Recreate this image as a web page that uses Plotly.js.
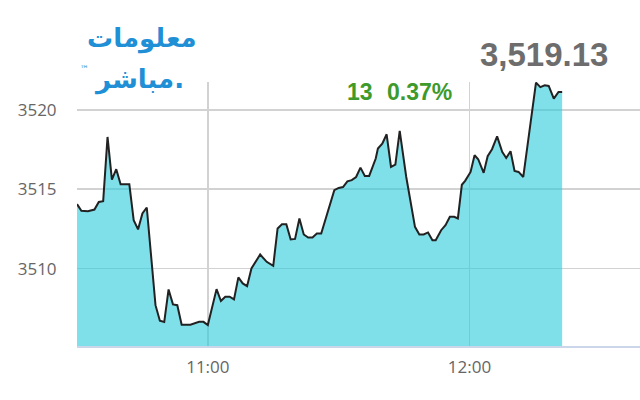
<!DOCTYPE html>
<html>
<head>
<meta charset="utf-8">
<script src="https://cdn.plot.ly/plotly-3.0.1.min.js"></script>
<style>
  html, body { margin: 0; padding: 0; background: #fff; }
  #chart { width: 640px; height: 400px; }
</style>
</head>
<body>
<div id="chart"></div>
<script>
// ---- data ----
const sessionDate = "2021-01-01";
const times = [
  "10:30:00","10:31:00","10:32:30","10:34:00","10:35:00","10:36:00","10:37:00","10:38:00","10:39:00","10:40:00",
  "10:42:00","10:43:00","10:44:00","10:45:00","10:46:00","10:48:00","10:49:00","10:50:00","10:51:00","10:52:00",
  "10:53:00","10:54:00","10:56:00","10:58:00","10:59:00","11:00:00","11:02:00","11:03:00","11:04:00","11:05:00",
  "11:06:00","11:07:00","11:08:00","11:09:00","11:10:00","11:12:00","11:13:30","11:15:00","11:16:00","11:17:00",
  "11:18:00","11:19:00","11:20:00","11:21:00","11:22:00","11:23:00","11:24:00","11:25:00","11:26:00","11:29:00",
  "11:30:00","11:31:00","11:32:00","11:33:00","11:34:00","11:35:00","11:36:00","11:37:00","11:38:30","11:39:00",
  "11:40:00","11:41:00","11:42:00","11:43:00","11:44:00","11:45:30","11:47:30","11:48:30","11:49:30","11:50:30",
  "11:51:30","11:52:15","11:53:30","11:54:30","11:55:30","11:56:30","11:57:20","11:58:15","11:59:00","12:00:15",
  "12:01:10","12:02:00","12:03:15","12:04:10","12:05:10","12:06:20","12:07:30","12:08:25","12:09:25","12:10:20",
  "12:11:15","12:12:20","12:15:15","12:16:15","12:17:15","12:18:10","12:19:20","12:20:25","12:21:15"
];
const indexValues = [
  3514.06,3513.64,3513.62,3513.72,3514.20,3514.25,3518.29,3515.61,3516.26,3515.31,
  3515.31,3513.05,3512.47,3513.47,3513.85,3507.70,3506.72,3506.64,3508.69,3507.75,
  3507.70,3506.47,3506.47,3506.65,3506.65,3506.45,3508.71,3507.96,3508.23,3508.23,
  3508.06,3509.45,3509.07,3508.90,3510.01,3510.89,3510.43,3510.18,3512.53,3512.80,
  3512.80,3511.84,3511.87,3513.16,3512.15,3511.96,3511.96,3512.21,3512.21,3514.94,
  3515.08,3515.14,3515.50,3515.57,3515.77,3516.36,3515.84,3515.84,3516.93,3517.56,
  3517.87,3518.46,3516.40,3516.55,3518.67,3515.77,3512.63,3512.15,3512.15,3512.28,
  3511.79,3511.79,3512.42,3512.74,3513.26,3513.26,3513.16,3515.28,3515.53,3516.09,
  3517.14,3516.89,3516.03,3517.08,3517.52,3518.33,3517.35,3516.97,3517.39,3516.15,
  3516.09,3515.77,3521.71,3521.43,3521.54,3521.50,3520.70,3521.12,3521.12
];
const yTickValues = [3510, 3515, 3520];
const xTickTimes = ["11:00:00", "12:00:00"];
const xTickLabels = ["11:00", "12:00"];
const lastValueText = "3,519.13";
const changePoints = "13";
const changePercent = "0.37%";
const logoLine1 = "معلومات";
const logoLine2 = "مباشر.";
const trademark = "™";

// ---- build ----
const xs = times.map(t => sessionDate + " " + t);

const trace = {
  x: xs,
  y: indexValues,
  type: "scatter",
  mode: "lines",
  line: { color: "#222222", width: 2 },
  fill: "tozeroy",
  fillcolor: "rgba(42,203,220,0.6)",
  hoverinfo: "skip"
};

const logoBlue = "#1f8fd6";

const layout = {
  width: 640,
  height: 400,
  margin: { l: 77, r: 0, t: 82, b: 54, pad: 0 },
  paper_bgcolor: "#ffffff",
  plot_bgcolor: "#ffffff",
  showlegend: false,
  xaxis: {
    type: "date",
    range: [sessionDate + " 10:30:00", sessionDate + " 12:39:06"],
    tickvals: xTickTimes.map(t => sessionDate + " " + t),
    ticktext: xTickLabels,
    showgrid: true,
    gridcolor: "#d2d2d2",
    gridwidth: 1.5,
    zeroline: false,
    showline: true,
    linecolor: "#ccd6eb",
    linewidth: 2,
    ticks: "outside",
    ticklen: 5,
    tickcolor: "rgba(0,0,0,0)",
    tickfont: { family: "Open Sans", size: 17, color: "#666666" }
  },
  yaxis: {
    range: [3505.13, 3521.75],
    tickvals: yTickValues,
    ticktext: yTickValues.map(String),
    showgrid: true,
    gridcolor: "#d2d2d2",
    gridwidth: 1.5,
    zeroline: false,
    showline: false,
    ticks: "outside",
    ticklen: 16,
    tickcolor: "rgba(0,0,0,0)",
    tickfont: { family: "Open Sans", size: 17, color: "#666666" }
  },
  annotations: [
    { text: lastValueText, xref: "paper", yref: "paper", x: 0.829, y: 1.105,
      xanchor: "center", yanchor: "middle", showarrow: false,
      font: { family: "Liberation Sans", size: 33, color: "#6d6d6d", weight: "bold" } },
    { text: changePoints, xref: "paper", yref: "paper", x: 0.503, y: 0.962,
      xanchor: "center", yanchor: "middle", showarrow: false,
      font: { family: "Liberation Sans", size: 23, color: "#3d9a2b", weight: "bold" } },
    { text: changePercent, xref: "paper", yref: "paper", x: 0.609, y: 0.962,
      xanchor: "center", yanchor: "middle", showarrow: false,
      font: { family: "Liberation Sans", size: 23, color: "#3d9a2b", weight: "bold" } },
    { text: logoLine1, xref: "paper", yref: "paper", x: 0.115, y: 1.165,
      xanchor: "center", yanchor: "middle", showarrow: false,
      font: { family: "DejaVu Sans", size: 26, color: logoBlue, weight: "bold" } },
    { text: logoLine2, xref: "paper", yref: "paper", x: 0.11, y: 1.01,
      xanchor: "center", yanchor: "middle", showarrow: false,
      font: { family: "DejaVu Sans", size: 26, color: logoBlue, weight: "bold" } },
    { text: trademark, xref: "paper", yref: "paper", x: 0.013, y: 1.05,
      xanchor: "center", yanchor: "middle", showarrow: false,
      font: { family: "DejaVu Sans", size: 9, color: logoBlue } }
  ]
};

Plotly.newPlot("chart", [trace], layout, { staticPlot: true, displayModeBar: false });
</script>
</body>
</html>
